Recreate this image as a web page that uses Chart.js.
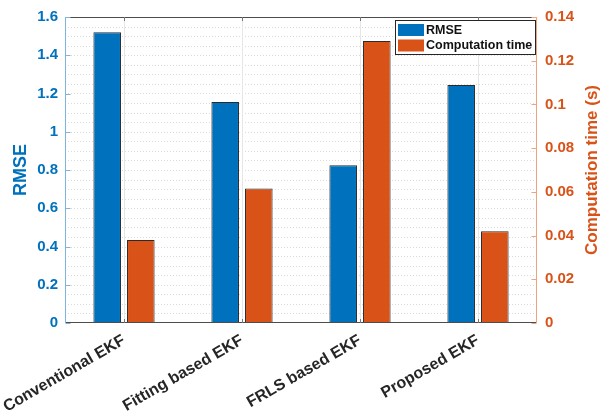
<!DOCTYPE html>
<html>
<head>
<meta charset="utf-8">
<script src="https://cdn.jsdelivr.net/npm/chart.js@4.4.1/dist/chart.umd.min.js"></script>
<style>
  html, body { margin: 0; padding: 0; background: #ffffff; }
  #wrap { width: 602px; height: 413px; }
</style>
</head>
<body>
<div id="wrap"><canvas id="c" width="602" height="413"></canvas></div>
<script>
// Estimator comparison: error (left axis) and runtime (right axis)
const methods = ['Conventional EKF', 'Fitting based EKF', 'FRLS based EKF', 'Proposed EKF'];
const rmseValues = [1.52, 1.155, 0.825, 1.245];
const timeValues = [0.038, 0.0615, 0.129, 0.042];

// Axis ranges
const rmseAxis = [0, 1.6, 0.2];      // min, max, step
const timeAxis = [0, 0.14, 0.02];    // min, max, step
const rmseMinorStep = 0.05;
const timeAxisTitle = 'Computation time (s)';

const BLUE = '#0072BD';
const ORANGE = '#D95319';
const FONT = "'Liberation Sans', Arial, Helvetica, sans-serif";

// Short numeric labels: 1 rather than 1.0, 0.1 rather than 0.10
const shortNum = v => String(Number(Number(v).toFixed(6)));

// Grid, box, inward ticks, right-hand title and legend
const framePlugin = {
  id: 'frame',
  beforeDatasetsDraw(chart) {
    const { ctx, chartArea: a, scales } = chart;
    ctx.save();
    // dotted horizontal grid on the minor steps of the left axis
    ctx.strokeStyle = '#dadada';
    ctx.lineWidth = 1;
    ctx.setLineDash([1, 2]);
    const n = Math.round((rmseAxis[1] - rmseAxis[0]) / rmseMinorStep);
    for (let i = 1; i < n; i++) {
      const y = Math.round(scales.y.getPixelForValue(rmseAxis[0] + i * rmseMinorStep)) + 0.5;
      ctx.beginPath(); ctx.moveTo(a.left, y); ctx.lineTo(a.right, y); ctx.stroke();
    }
    // solid vertical grid at the category ticks
    ctx.setLineDash([]);
    ctx.strokeStyle = '#e6e6e6';
    methods.forEach((m, i) => {
      const x = Math.round(scales.x.getPixelForTick(i)) + 0.5;
      ctx.beginPath(); ctx.moveTo(x, a.top); ctx.lineTo(x, a.bottom); ctx.stroke();
    });
    ctx.restore();
  },
  afterDatasetsDraw(chart) {
    const { ctx, chartArea: a, scales } = chart;
    ctx.save();
    ctx.lineWidth = 1;
    // top and bottom edges
    ctx.strokeStyle = '#4d4d4d';
    ctx.beginPath();
    ctx.moveTo(a.left, Math.round(a.top) + 0.5); ctx.lineTo(a.right, Math.round(a.top) + 0.5);
    ctx.moveTo(a.left, Math.round(a.bottom) - 0.5); ctx.lineTo(a.right, Math.round(a.bottom) - 0.5);
    ctx.stroke();
    // category tick marks, pointing inward
    ctx.strokeStyle = '#777777';
    methods.forEach((m, i) => {
      const x = Math.round(scales.x.getPixelForTick(i)) + 0.5;
      ctx.beginPath();
      ctx.moveTo(x, a.bottom); ctx.lineTo(x, a.bottom - 4);
      ctx.moveTo(x, a.top); ctx.lineTo(x, a.top + 4);
      ctx.stroke();
    });
    // left axis line and ticks
    ctx.strokeStyle = '#7fb3dc';
    const xl = Math.round(a.left) + 0.5;
    ctx.beginPath(); ctx.moveTo(xl, a.top); ctx.lineTo(xl, a.bottom); ctx.stroke();
    scales.y.ticks.forEach(t => {
      const y = Math.round(scales.y.getPixelForValue(t.value)) + 0.5;
      ctx.beginPath(); ctx.moveTo(xl, y); ctx.lineTo(xl + 5, y); ctx.stroke();
    });
    // right axis line and ticks
    ctx.strokeStyle = '#f2a27c';
    const xr = Math.round(a.right) - 0.5;
    ctx.beginPath(); ctx.moveTo(xr, a.top); ctx.lineTo(xr, a.bottom); ctx.stroke();
    scales.y1.ticks.forEach(t => {
      const y = Math.round(scales.y1.getPixelForValue(t.value)) + 0.5;
      ctx.beginPath(); ctx.moveTo(xr, y); ctx.lineTo(xr - 5, y); ctx.stroke();
    });

    // right-hand axis title, reading bottom to top
    ctx.save();
    ctx.translate(592, (a.top + a.bottom) / 2);
    ctx.rotate(-Math.PI / 2);
    ctx.font = 'bold 17px ' + FONT;
    ctx.fillStyle = ORANGE;
    ctx.textAlign = 'center';
    ctx.textBaseline = 'middle';
    ctx.fillText(timeAxisTitle, 0, 0);
    ctx.restore();

    // legend box, upper right inside the axes
    const lx = a.right - 142, ly = a.top + 3, lw = 141, lh = 35;
    ctx.fillStyle = '#ffffff';
    ctx.fillRect(lx, ly, lw, lh);
    ctx.strokeStyle = '#262626';
    ctx.strokeRect(lx + 0.5, ly + 0.5, lw - 1, lh - 1);
    const entries = chart.data.datasets;
    ctx.font = 'bold 12.5px ' + FONT;
    ctx.textBaseline = 'middle';
    ctx.textAlign = 'left';
    entries.forEach((ds, i) => {
      const cy = ly + 10 + i * 15.5;
      ctx.fillStyle = ds.backgroundColor;
      ctx.fillRect(lx + 3, cy - 6, 26, 12);
      ctx.fillStyle = '#111111';
      ctx.fillText(ds.label, lx + 31, cy + 0.5);
    });
    ctx.restore();
  }
};

new Chart(document.getElementById('c'), {
  type: 'bar',
  data: {
    labels: methods,
    datasets: [
      {
        label: 'RMSE',
        data: rmseValues,
        yAxisID: 'y',
        backgroundColor: BLUE,
        borderColor: '#2b2b2b',
        borderWidth: 1,
        categoryPercentage: 0.57,
        barPercentage: 0.82
      },
      {
        label: 'Computation time',
        data: timeValues,
        yAxisID: 'y1',
        backgroundColor: ORANGE,
        borderColor: '#2b2b2b',
        borderWidth: 1,
        categoryPercentage: 0.57,
        barPercentage: 0.82
      }
    ]
  },
  options: {
    responsive: false,
    devicePixelRatio: 1,
    animation: false,
    layout: { padding: { top: 16, left: 0, right: 0, bottom: 0 } },
    plugins: {
      legend: { display: false },
      tooltip: { enabled: false }
    },
    scales: {
      x: {
        offset: true,
        grid: { display: false, drawTicks: false },
        border: { display: false },
        ticks: {
          color: '#262626',
          font: { family: FONT, size: 16, weight: 'bold' },
          maxRotation: 30,
          minRotation: 30,
          padding: 8,
          autoSkip: false
        },
        afterFit(s) {
          s.height = 90;
          s.paddingLeft = 0;
          s.paddingRight = 0;
        }
      },
      y: {
        position: 'left',
        min: rmseAxis[0],
        max: rmseAxis[1],
        grid: { display: false, drawTicks: false },
        border: { display: false },
        ticks: {
          stepSize: rmseAxis[2],
          color: BLUE,
          font: { family: FONT, size: 15, weight: 'bold' },
          padding: 7,
          callback: v => shortNum(v)
        },
        title: {
          display: true,
          text: 'RMSE',
          color: BLUE,
          font: { family: FONT, size: 18, weight: 'bold', lineHeight: 1 },
          padding: { top: 12, bottom: 0 }
        },
        afterFit(s) { s.width = 65; }
      },
      y1: {
        position: 'right',
        min: timeAxis[0],
        max: timeAxis[1],
        grid: { display: false, drawTicks: false },
        border: { display: false },
        ticks: {
          stepSize: timeAxis[2],
          color: ORANGE,
          font: { family: FONT, size: 15, weight: 'bold' },
          padding: 8,
          callback: v => shortNum(v)
        },
        afterFit(s) { s.width = 65; }
      }
    }
  },
  plugins: [framePlugin]
});
</script>
</body>
</html>
